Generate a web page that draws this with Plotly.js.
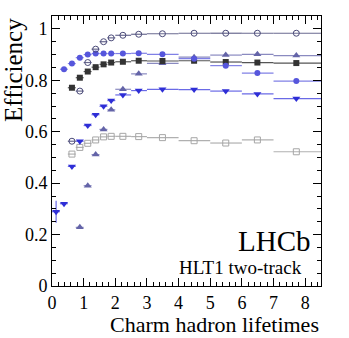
<!DOCTYPE html>
<html>
<head>
<meta charset="utf-8">
<script src="https://cdn.plot.ly/plotly-3.0.1.min.js"></script>
<style>html,body{margin:0;padding:0;background:#fff;}#chart{width:349px;height:338px;}</style>
</head>
<body>
<div id="chart"></div>
<script>
// Bin edges (charm hadron lifetimes)
var binLo = [0, 0.25, 0.5, 0.75, 1.0, 1.25, 1.5, 1.75, 2.0, 2.5, 3, 4, 5, 6, 7];
var binHi = [0.25, 0.5, 0.75, 1.0, 1.25, 1.5, 1.75, 2.0, 2.5, 3, 4, 5, 6, 7, 8.5];
// Mean lifetime within each bin (marker position)
var binMean = [0.13, 0.38, 0.63, 0.88, 1.13, 1.38, 1.63, 1.87, 2.24, 2.74, 3.49, 4.49, 5.49, 6.49, 7.72];

// Series: first bin index + efficiencies
var openCircleStart = 2;
var openCircle = [0.563, 0.758, 0.869, 0.921, 0.950, 0.965, 0.975, 0.979, 0.981, 0.983, 0.983, 0.983, 0.983];
var fullCircleStart = 1;
var fullCircle = [0.843, 0.865, 0.888, 0.900, 0.904, 0.904, 0.904, 0.904, 0.905, 0.901, 0.884, 0.857, 0.828, 0.797];
var fullSquareStart = 2;
var fullSquare = [0.771, 0.810, 0.834, 0.851, 0.862, 0.869, 0.872, 0.876, 0.875, 0.876, 0.871, 0.869, 0.867];
var upTriStart = 3;
var upTri = [0.228, 0.390, 0.511, 0.609, 0.685, 0.765, 0.825, 0.866, 0.890, 0.898, 0.901, 0.896];
var downTriStart = 0;
var downTri = [0.289, 0.320, 0.465, 0.563, 0.624, 0.666, 0.699, 0.721, 0.743, 0.760, 0.765, 0.764, 0.758, 0.747, 0.729];
var downTriErr = [0.043, 0.005, 0.005, 0.004, 0.004, 0.003, 0.003, 0.003, 0.003, 0.003, 0.003, 0.003, 0.003, 0.003, 0.003];
var openSquareStart = 2;
var openSquare = [0.513, 0.539, 0.555, 0.568, 0.580, 0.582, 0.582, 0.581, 0.577, 0.565, 0.556, 0.568, 0.522];

var FONT = "Liberation Serif, Times New Roman, serif";

function makeTrace(start, vals, color, symbol, size, lineW, yerr, barColor) {
  var n = vals.length;
  var x = binMean.slice(start, start + n);
  var lo = binLo.slice(start, start + n);
  var hi = binHi.slice(start, start + n);
  var errMinus = x.map(function (v, i) { return v - lo[i]; });
  var errPlus = x.map(function (v, i) { return hi[i] - v; });
  var t = {
    type: 'scatter', mode: 'markers', x: x, y: vals, showlegend: false,
    marker: { symbol: symbol, size: size, color: color, line: { color: color, width: lineW } },
    error_x: { type: 'data', symmetric: false, array: errPlus, arrayminus: errMinus,
               color: barColor || color, thickness: 1.2, width: 0 }
  };
  if (yerr) {
    t.error_y = { type: 'data', array: yerr, color: barColor || color, thickness: 1.2, width: 0 };
  }
  return t;
}

var data = [
  makeTrace(openSquareStart, openSquare, '#a6a6a6', 'square-open', 6, 1, null, '#b0b0b0'),
  makeTrace(downTriStart, downTri, '#2e2ed6', 'triangle-down', 7, 0, downTriErr.slice(0, downTri.length), '#6a6ae6'),
  makeTrace(upTriStart, upTri, '#6464a8', 'triangle-up', 7, 0, null, '#8a8ac0'),
  makeTrace(fullSquareStart, fullSquare, '#333333', 'square', 6, 0, null, '#555555'),
  makeTrace(fullCircleStart, fullCircle, '#5656dc', 'circle', 6, 0, null, '#8080e6'),
  makeTrace(openCircleStart, openCircle, '#4a4a78', 'circle-open', 6, 1, null, '#6a6a90')
];

var axisCommon = {
  showgrid: false, zeroline: false, showline: true, linecolor: '#000', linewidth: 1,
  mirror: 'allticks', ticks: 'inside', ticklen: 8, tickwidth: 1, tickcolor: '#000',
  tickfont: { family: FONT, size: 18, color: '#000' }
};

var layout = {
  width: 349, height: 338,
  margin: { l: 52, r: 28, t: 16, b: 52, pad: 0 },
  paper_bgcolor: '#fff', plot_bgcolor: '#fff',
  font: { family: FONT, color: '#000' },
  xaxis: Object.assign({}, axisCommon, {
    range: [0, 8.5], dtick: 1, tick0: 0,
    minor: { dtick: 0.2, ticks: 'inside', ticklen: 4, tickcolor: '#000', showgrid: false }
  }),
  yaxis: Object.assign({}, axisCommon, {
    range: [0, 1.05], dtick: 0.2, tick0: 0,
    minor: { dtick: 0.05, ticks: 'inside', ticklen: 4, tickcolor: '#000', showgrid: false }
  }),
  annotations: [
    { text: 'Charm hadron lifetimes', xref: 'paper', yref: 'paper', x: 1.0, y: -0.144,
      xanchor: 'right', yanchor: 'middle', showarrow: false, font: { family: FONT, size: 22, color: '#000' } },
    { text: 'Efficiency', xref: 'paper', yref: 'paper', x: -0.145, y: 1.0, textangle: -90,
      xanchor: 'center', yanchor: 'top', showarrow: false, font: { family: FONT, size: 25, color: '#000' } },
    { text: 'LHCb', xref: 'paper', yref: 'paper', x: 0.972, y: 0.167,
      xanchor: 'right', yanchor: 'middle', showarrow: false, font: { family: FONT, size: 29, color: '#000' } },
    { text: 'HLT1 two-track', xref: 'paper', yref: 'paper', x: 0.935, y: 0.070,
      xanchor: 'right', yanchor: 'middle', showarrow: false, font: { family: FONT, size: 19, color: '#000' } }
  ]
};

Plotly.newPlot('chart', data, layout, { displayModeBar: false, staticPlot: true });
</script>
</body>
</html>
